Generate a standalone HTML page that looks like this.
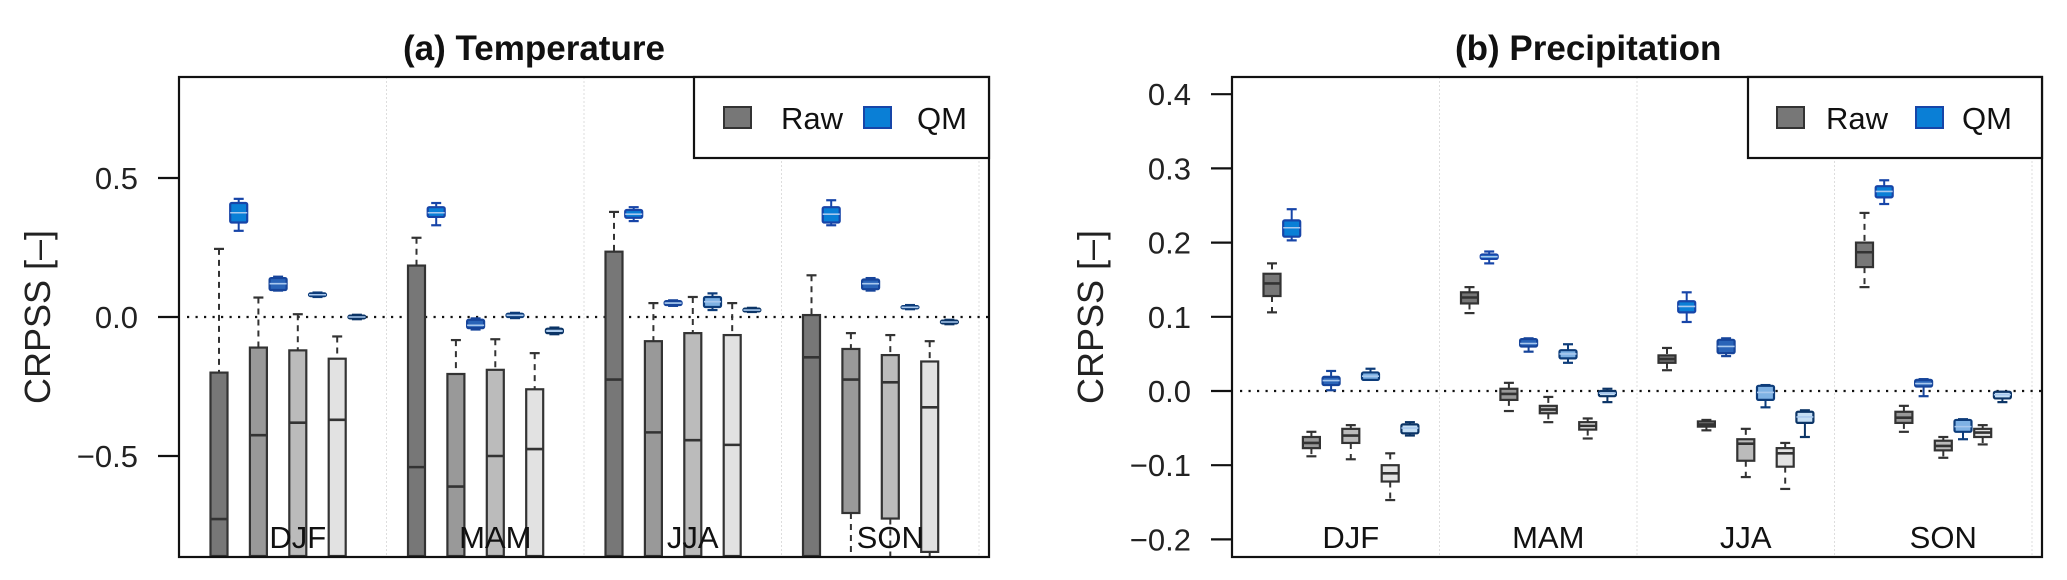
<!DOCTYPE html>
<html><head><meta charset="utf-8">
<style>
html,body{margin:0;padding:0;background:#fff;width:2067px;height:580px;overflow:hidden;}
svg{display:block;font-family:"Liberation Sans",Arial,sans-serif;}
</style></head>
<body>
<svg id="fig" width="2067" height="580" viewBox="0 0 2067 580" xmlns="http://www.w3.org/2000/svg">
<defs>
<clipPath id="clipA"><rect x="179" y="77" width="810" height="480"/></clipPath>
<clipPath id="clipB"><rect x="1232" y="77" width="810" height="480"/></clipPath>
</defs>
</svg>
<script>
// ---------- data ----------
const seasons = ["DJF","MAM","JJA","SON"];
const tempTicks = [0.5, 0.0, -0.5];
const tempTickLabels = ["0.5","0.0","\u22120.5"];
const precTicks = [0.4,0.3,0.2,0.1,0.0,-0.1,-0.2];
const precTickLabels = ["0.4","0.3","0.2","0.1","0.0","\u22120.1","\u22120.2"];

// Temperature, order: season-major, lead 1..4
const tRawLo  = [-1.2,-1.2,-1.2,-1.2, -1.2,-1.2,-1.2,-1.2, -1.2,-1.2,-1.2,-1.2, -1.2,-0.95,-0.95,-0.9];
const tRawQ1  = [-1.0,-1.0,-1.0,-1.0, -1.0,-1.0,-1.0,-1.0, -1.0,-1.0,-1.0,-1.0, -1.0,-0.705,-0.725,-0.845];
const tRawMed = [-0.727,-0.425,-0.38,-0.37, -0.54,-0.61,-0.50,-0.475, -0.225,-0.415,-0.443,-0.46, -0.145,-0.225,-0.235,-0.325];
const tRawQ3  = [-0.20,-0.11,-0.12,-0.15, 0.185,-0.205,-0.19,-0.26, 0.235,-0.087,-0.058,-0.065, 0.007,-0.115,-0.137,-0.16];
const tRawHi  = [0.245,0.07,0.01,-0.07, 0.285,-0.083,-0.08,-0.13, 0.378,0.05,0.072,0.05, 0.15,-0.058,-0.065,-0.087];
const tQmLo   = [0.31,0.095,0.072,-0.008, 0.33,-0.045,-0.004,-0.062, 0.345,0.04,0.025,0.018, 0.33,0.095,0.028,-0.026];
const tQmQ1   = [0.34,0.097,0.075,-0.005, 0.36,-0.04,0.0,-0.058, 0.357,0.043,0.036,0.02, 0.34,0.10,0.031,-0.023];
const tQmMed  = [0.375,0.12,0.08,0.0, 0.375,-0.03,0.006,-0.05, 0.37,0.05,0.055,0.025, 0.37,0.12,0.035,-0.018];
const tQmQ3   = [0.41,0.14,0.085,0.005, 0.395,-0.01,0.012,-0.042, 0.385,0.057,0.072,0.03, 0.395,0.135,0.039,-0.013];
const tQmHi   = [0.425,0.145,0.088,0.008, 0.41,-0.005,0.015,-0.038, 0.395,0.06,0.085,0.033, 0.42,0.14,0.043,-0.01];

// Precipitation
const pRawLo  = [0.106,-0.088,-0.092,-0.147, 0.105,-0.027,-0.042,-0.064, 0.028,-0.053,-0.116,-0.132, 0.14,-0.055,-0.09,-0.072];
const pRawQ1  = [0.128,-0.077,-0.07,-0.122, 0.118,-0.012,-0.03,-0.052, 0.038,-0.048,-0.094,-0.102, 0.167,-0.043,-0.08,-0.062];
const pRawMed = [0.145,-0.07,-0.06,-0.111, 0.126,-0.004,-0.025,-0.047, 0.043,-0.045,-0.071,-0.084, 0.187,-0.036,-0.074,-0.056];
const pRawQ3  = [0.158,-0.062,-0.051,-0.10, 0.133,0.003,-0.02,-0.042, 0.048,-0.041,-0.065,-0.077, 0.20,-0.028,-0.067,-0.051];
const pRawHi  = [0.172,-0.055,-0.046,-0.084, 0.14,0.011,-0.008,-0.037, 0.058,-0.039,-0.051,-0.07, 0.24,-0.02,-0.062,-0.046];
const pQmLo   = [0.203,0.001,0.015,-0.06, 0.172,0.053,0.038,-0.015, 0.093,0.047,-0.022,-0.062, 0.252,-0.007,-0.065,-0.015];
const pQmQ1   = [0.208,0.008,0.015,-0.057, 0.178,0.06,0.044,-0.007, 0.106,0.051,-0.012,-0.043, 0.261,0.006,-0.055,-0.01];
const pQmMed  = [0.22,0.014,0.02,-0.05, 0.181,0.064,0.05,-0.003, 0.114,0.06,-0.002,-0.035, 0.269,0.01,-0.048,-0.005];
const pQmQ3   = [0.23,0.019,0.025,-0.045, 0.184,0.07,0.055,0.0, 0.121,0.069,0.007,-0.028, 0.276,0.015,-0.039,-0.001];
const pQmHi   = [0.245,0.027,0.03,-0.042, 0.188,0.071,0.063,0.003, 0.133,0.071,0.008,-0.026, 0.284,0.016,-0.038,-0.001];

// ---------- drawing ----------
const NS = "http://www.w3.org/2000/svg";
const svg = document.getElementById("fig");
function mk(tag, attrs, parent){
  const e = document.createElementNS(NS, tag);
  for (const k in attrs) e.setAttribute(k, attrs[k]);
  (parent||svg).appendChild(e);
  return e;
}
const rawFill = ["#777777","#999999","#bbbbbb","#e2e2e2"];
const qmFill = ["#0a7fd6","#2a64b8","#7fb2e4","#c4def4"];
const qmStroke = ["#1745a8","#16449a","#0d3c7a","#0b3466"];

function panel(cfg){
  const {left,right,top,bottom,ticks,tickLabels,clip,title,titleX,legendX,legendOff,axisLabelX,tickLabelX, d} = cfg;
  const yRaw = cfg.yScale;
  const yScale = v => Math.min(bottom-1, Math.max(top+1, yRaw(v)));
  const g = mk("g",{});
  
  
  const sStart = left + 10, sW = 197.5;
  for (let s=1;s<=4;s++){
    const x = sStart + s*sW;
    const l = mk("line",{x1:x,x2:x,y1:top,y2:bottom,stroke:"#dddddd","stroke-width":1,"stroke-dasharray":"2,2"},g);
    
    
  }
  const z = mk("line",{x1:left+8,x2:right,y1:yScale(0),y2:yScale(0),stroke:"#111","stroke-width":2.2,"stroke-dasharray":"2.2,6.3"},g);
  
  
  const bg = mk("g",{"clip-path":"url(#"+clip+")"},g);
  for (let s=0;s<4;s++){
    for (let k=0;k<4;k++){
      const i = s*4+k;
      for (let t=0;t<2;t++){
        const isRaw = t===0;
        const cx = sStart + s*sW + 30 + 19.7*(2*k+t);
        const lo = isRaw?d.rawLo[i]:d.qmLo[i], q1 = isRaw?d.rawQ1[i]:d.qmQ1[i], md = isRaw?d.rawMed[i]:d.qmMed[i], q3 = isRaw?d.rawQ3[i]:d.qmQ3[i], hi = isRaw?d.rawHi[i]:d.qmHi[i];
        const stroke = isRaw?"#333333":qmStroke[k];
        const fill = isRaw?rawFill[k]:qmFill[k];
        const bw = 17;
        const box = mk("g",{},bg);
        
        
        const dash = isRaw?"6,5":"none";
        mk("line",{x1:cx,x2:cx,y1:yScale(hi),y2:yScale(q3),stroke:stroke,"stroke-width":2,"stroke-dasharray":dash},box);
        mk("line",{x1:cx,x2:cx,y1:yScale(q1),y2:yScale(lo),stroke:stroke,"stroke-width":2,"stroke-dasharray":dash},box);
        if (yRaw(hi) > top && yRaw(hi) < bottom)
          mk("line",{x1:cx-5,x2:cx+5,y1:yScale(hi),y2:yScale(hi),stroke:stroke,"stroke-width":2.2},box);
        if (yRaw(lo) > top && yRaw(lo) < bottom)
          mk("line",{x1:cx-5,x2:cx+5,y1:yScale(lo),y2:yScale(lo),stroke:stroke,"stroke-width":2.2},box);
        const y3 = yScale(q3), y1 = yScale(q1);
        mk("rect",{x:cx-bw/2,y:y3,width:bw,height:Math.max(y1-y3,2),fill:fill,stroke:stroke,"stroke-width":2.2,rx:isRaw?0:1.5},box);
        mk("line",{x1:cx-bw/2,x2:cx+bw/2,y1:yScale(md),y2:yScale(md),stroke:isRaw?"#333":"#a8c8ee","stroke-width":isRaw?2.6:1.6},box);
      }
    }
  }
  const fr = mk("rect",{x:left,y:top,width:right-left,height:bottom-top,fill:"none",stroke:"#111","stroke-width":2.2},g);
  
  
  for (let j=0;j<ticks.length;j++){
    const y = yScale(ticks[j]);
    const tl = mk("line",{x1:left-21,x2:left,y1:y,y2:y,stroke:"#111","stroke-width":2.2},g);
    
    
    const tx = mk("text",{x:tickLabelX,y:y+11,"text-anchor":"end","font-size":31,fill:"#222"},g);
    tx.textContent = tickLabels[j];
    
    
  }
  for (let s=0;s<4;s++){
    const tx = mk("text",{x:sStart+s*sW+sW/2+10,y:548,"text-anchor":"middle","font-size":31,fill:"#111"},g);
    tx.textContent = seasons[s];
    
    
  }
  const al = mk("text",{x:axisLabelX,y:317,"text-anchor":"middle","font-size":36,fill:"#222",transform:"rotate(-90 "+axisLabelX+" 317)"},g);
  al.textContent = "CRPSS [\u2013]";
  
  
  const tt = mk("text",{x:titleX,y:60,"font-size":35,"font-weight":"bold",fill:"#111","xml:space":"preserve"},g);
  tt.textContent = title;
  
  
  const lg = mk("g",{},g);
  
  
  mk("rect",{x:legendX,y:top,width:right-legendX,height:158-top,fill:"#fff",stroke:"#111","stroke-width":2.2},lg);
  const e1 = mk("rect",{x:legendX+legendOff[0],y:107,width:27,height:21,fill:"#777",stroke:"#333","stroke-width":2},lg);
  
  
  const t1 = mk("text",{x:legendX+legendOff[1],y:129,"font-size":31,fill:"#111"},lg);
  t1.textContent = "Raw";
  
  
  const e2 = mk("rect",{x:legendX+legendOff[2],y:107,width:27,height:21,fill:"#0a7fd6",stroke:"#1745a8","stroke-width":2},lg);
  
  
  const t2 = mk("text",{x:legendX+legendOff[3],y:129,"font-size":31,fill:"#111"},lg);
  t2.textContent = "QM";
  
  
}

panel({name:"temperature-panel",left:179,right:989,top:77,bottom:557,
  yScale:v=>317-v*278, ticks:tempTicks, tickLabels:tempTickLabels, clip:"clipA",
  title:"(a)  Temperature", titleX:403, legendX:694, legendOff:[30,87,170,223], axisLabelX:50, tickLabelX:138,
  d:{rawLo:tRawLo,rawQ1:tRawQ1,rawMed:tRawMed,rawQ3:tRawQ3,rawHi:tRawHi,qmLo:tQmLo,qmQ1:tQmQ1,qmMed:tQmMed,qmQ3:tQmQ3,qmHi:tQmHi}});
panel({name:"precipitation-panel",left:1232,right:2042,top:77,bottom:557,
  yScale:v=>391-v*742, ticks:precTicks, tickLabels:precTickLabels, clip:"clipB",
  title:"(b)  Precipitation", titleX:1455, legendX:1748, legendOff:[29,78,168,214], axisLabelX:1103, tickLabelX:1191,
  d:{rawLo:pRawLo,rawQ1:pRawQ1,rawMed:pRawMed,rawQ3:pRawQ3,rawHi:pRawHi,qmLo:pQmLo,qmQ1:pQmQ1,qmMed:pQmMed,qmQ3:pQmQ3,qmHi:pQmHi}});
</script>
</body></html>
